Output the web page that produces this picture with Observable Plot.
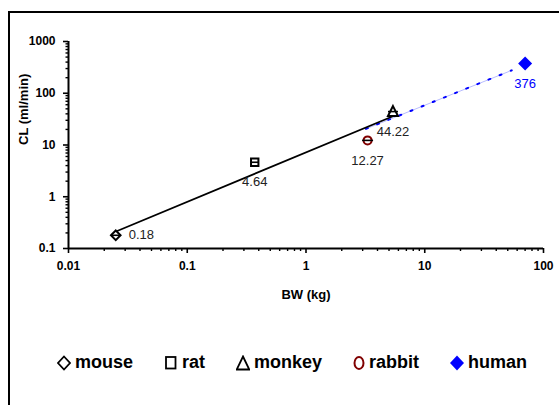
<!DOCTYPE html>
<html>
<head>
<meta charset="utf-8">
<script src="https://cdn.jsdelivr.net/npm/d3@7"></script>
<script src="https://cdn.jsdelivr.net/npm/@observablehq/plot@0.6"></script>
<style>
  html, body { margin: 0; padding: 0; background: #fff; }
  #wrap { position: relative; width: 559px; height: 405px; overflow: hidden; background: #fff;
          font-family: "Liberation Sans", Arial, Helvetica, sans-serif; }
  #chart { position: absolute; left: 0; top: 0; }
  #frame { position: absolute; left: 8px; top: 11px; width: 700px; height: 600px;
           border-left: 2px solid #000; border-top: 2px solid #000; pointer-events: none; }
  #legend { position: absolute; left: 57px; top: 352px; display: flex; align-items: center;
            font-weight: bold; font-size: 18px; color: #000; white-space: nowrap; }
  #legend .item { display: flex; align-items: center; margin-right: 31px; }
  #legend svg { display: block; margin-right: 4px; }
</style>
</head>
<body>
<div id="wrap">
  <div id="chart"></div>
  <div id="frame"></div>
  <div id="legend"></div>
</div>
<script>
// Species, body weight (kg) and clearance (ml/min)
const species = ["mouse", "rat", "monkey", "rabbit", "human"];
const bodyWeight = [0.025, 0.37, 5.4, 3.3, 70];
const clearance = [0.18, 4.64, 44.22, 12.27, 376];
const valueLabels = ["0.18", "4.64", "44.22", "12.27", "376"];

// Allometric fit through the animal data, and its extrapolation to human
const fitBW = [0.026, 5.4];
const fitCL = [0.22, 36];
const extrapBW = [3.2, 54];
const extrapCL = [20.5, 277];

// Axis ticks
const xTicks = [0.01, 0.1, 1, 10, 100];
const xTickLabels = ["0.01", "0.1", "1", "10", "100"];
const yTicks = [0.1, 1, 10, 100, 1000];
const yTickLabels = ["0.1", "1", "10", "100", "1000"];
const minorMultipliers = [2, 3, 4, 5, 6, 7, 8, 9];

const points = species.map((name, i) => ({name, bw: bodyWeight[i], cl: clearance[i], label: valueLabels[i]}));
const fitLine = fitBW.map((bw, i) => ({bw, cl: fitCL[i]}));
const extrapLine = extrapBW.map((bw, i) => ({bw, cl: extrapCL[i]}));
const xMinor = xTicks.slice(0, -1).flatMap(d => minorMultipliers.map(k => k * d));
const yMinor = yTicks.slice(0, -1).flatMap(d => minorMultipliers.map(k => k * d));
const xLabelOf = new Map(xTicks.map((d, i) => [d, xTickLabels[i]]));
const yLabelOf = new Map(yTicks.map((d, i) => [d, yTickLabels[i]]));

// Marker shapes as custom symbols (size = pi * r^2)
const symbolOf = (draw) => ({draw(ctx, size) { draw(ctx, Math.sqrt(size / Math.PI)); }});
const shapes = {
  diamond: symbolOf((c, r) => { c.moveTo(0, -r); c.lineTo(r, 0); c.lineTo(0, r); c.lineTo(-r, 0); c.closePath(); }),
  square: symbolOf((c, r) => { c.moveTo(-r, -r); c.lineTo(r, -r); c.lineTo(r, r); c.lineTo(-r, r); c.closePath(); }),
  triangle: symbolOf((c, r) => { c.moveTo(0, -1.1 * r); c.lineTo(r, 0.9 * r); c.lineTo(-r, 0.9 * r); c.closePath(); }),
  circle: symbolOf((c, r) => { c.moveTo(r, 0); c.arc(0, 0, r, 0, 2 * Math.PI); }),
  dash: symbolOf((c, r) => { c.moveTo(-r, 0); c.lineTo(r, 0); })
};

const markerStyle = {
  mouse:  {shape: "diamond",  r: 4.8, color: "#000", filled: false, dash: 4.5},
  rat:    {shape: "square",   r: 3.7, color: "#000", filled: false, dash: 3.7},
  monkey: {shape: "triangle", r: 5,   color: "#000", filled: false, dash: 5},
  rabbit: {shape: "circle",   r: 4,   color: "#800000", filled: false, dash: 5.5},
  human:  {shape: "diamond",  r: 7,   color: "#0000ff", filled: true}
};

const markerMarks = species.flatMap(name => {
  const s = markerStyle[name];
  const data = points.filter(d => d.name === name);
  const marks = [Plot.dot(data, {
    x: "bw", y: "cl", symbol: shapes[s.shape], r: s.r,
    fill: s.filled ? s.color : "white",
    stroke: s.filled ? "none" : s.color,
    strokeWidth: 2
  })];
  if (s.dash) marks.push(Plot.dot(data, {x: "bw", y: "cl", symbol: shapes.dash, r: s.dash, stroke: "#000", strokeWidth: 1.6, fill: "none"}));
  return marks;
});

const chart = Plot.plot({
  width: 559,
  height: 312,
  marginLeft: 68,
  marginRight: 16,
  marginTop: 41,
  marginBottom: 64,
  style: {background: "transparent", fontFamily: "'Liberation Sans', Arial, sans-serif", color: "#000"},
  x: {type: "log", domain: [0.01, 100]},
  y: {type: "log", domain: [0.1, 1000]},
  marks: [
    // minor ticks
    Plot.axisX(xMinor, {tickSize: 3, tickFormat: null, label: null, strokeWidth: 1.4}),
    Plot.axisY(yMinor, {tickSize: 2.5, tickFormat: null, label: null, strokeWidth: 1.4}),
    // major ticks and labels
    Plot.axisX(xTicks, {tickSize: 5, tickPadding: 8, tickFormat: d => xLabelOf.get(d), label: null,
      fontSize: 12, fontWeight: "bold", strokeWidth: 1.6}),
    Plot.axisY(yTicks, {tickSize: 5, tickPadding: 8, tickFormat: d => yLabelOf.get(d), label: null,
      fontSize: 12, fontWeight: "bold", strokeWidth: 1.6}),
    // axis titles
    Plot.text(["BW (kg)"], {frameAnchor: "bottom", dy: 50, fontSize: 13, fontWeight: "bold", fill: "#000"}),
    Plot.text(["CL (ml/min)"], {frameAnchor: "left", dx: -45, rotate: -90, fontSize: 13, fontWeight: "bold", fill: "#000"}),
    // axis lines
    Plot.ruleX([0.01], {stroke: "#000", strokeWidth: 2}),
    Plot.ruleY([0.1], {stroke: "#000", strokeWidth: 2}),
    // fitted line and extrapolation
    Plot.line(extrapLine, {x: "bw", y: "cl", stroke: "#b8bcff", strokeWidth: 1}),
    Plot.line(extrapLine, {x: "bw", y: "cl", stroke: "#0000ff", strokeWidth: 2, strokeDasharray: "2,10"}),
    Plot.line(fitLine, {x: "bw", y: "cl", stroke: "#000", strokeWidth: 1.8}),
    ...markerMarks,
    // value labels
    Plot.text(points.filter(d => d.name === "mouse"), {x: "bw", y: "cl", text: "label", dx: 13, textAnchor: "start",
      fontSize: 13, fill: "#222"}),
    Plot.text(points.filter(d => d.name !== "mouse"), {x: "bw", y: "cl", text: "label", dy: 20,
      fontSize: 13, fill: d => d.name === "human" ? "#0000ff" : "#222"})
  ]
});
document.getElementById("chart").append(chart);

// Legend
const legendIcon = {
  mouse:  (g) => g.append("path").attr("d", "M7,1.5 L13,8 L7,14.5 L1,8 Z").attr("fill", "none").attr("stroke", "#000").attr("stroke-width", 1.8),
  rat:    (g) => g.append("rect").attr("x", 2).attr("y", 2).attr("width", 9.5).attr("height", 11.5).attr("fill", "none").attr("stroke", "#000").attr("stroke-width", 1.8),
  monkey: (g) => g.append("path").attr("d", "M7,1.5 L13.3,14.5 L0.7,14.5 Z").attr("fill", "none").attr("stroke", "#000").attr("stroke-width", 1.8),
  rabbit: (g) => g.append("ellipse").attr("cx", 6).attr("cy", 8).attr("rx", 4.5).attr("ry", 6).attr("fill", "none").attr("stroke", "#800000").attr("stroke-width", 2),
  human:  (g) => g.append("path").attr("d", "M7,0.5 L14,8 L7,15.5 L0,8 Z").attr("fill", "#0000ff")
};
const legend = d3.select("#legend");
species.forEach(name => {
  const item = legend.append("div").attr("class", "item");
  const svg = item.append("svg").attr("width", name === "rabbit" ? 12 : 14).attr("height", 16);
  legendIcon[name](svg);
  item.append("span").text(name);
});
</script>
</body>
</html>
